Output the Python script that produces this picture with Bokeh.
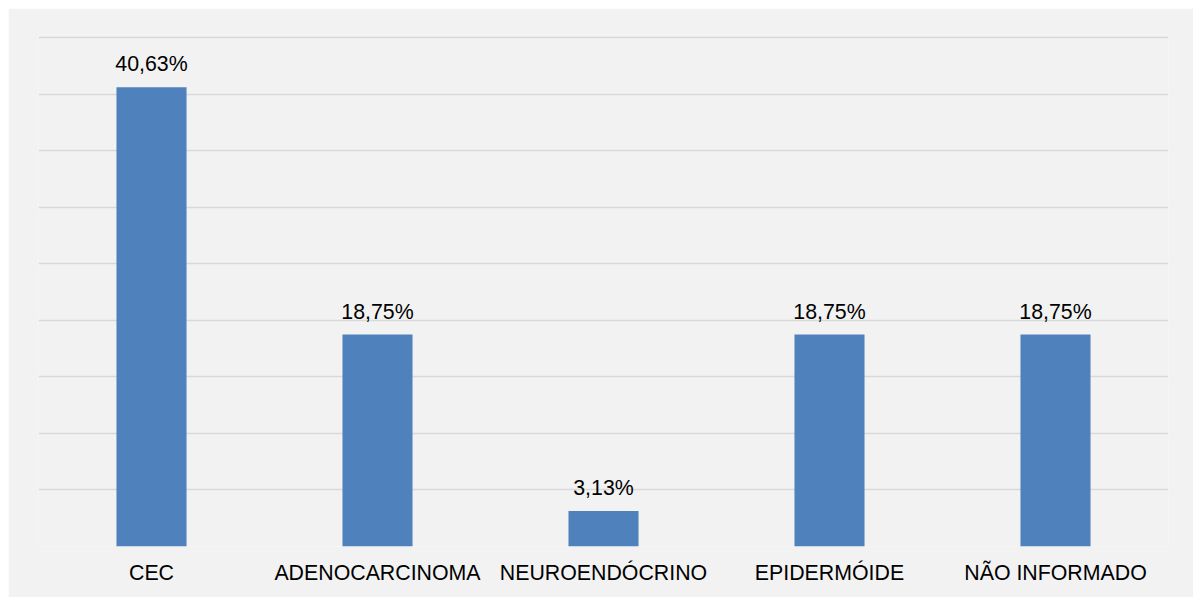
from bokeh.plotting import figure
from bokeh.models import ColumnDataSource, SingleIntervalTicker, Range1d
from bokeh.core.properties import value
from bokeh.embed import file_html
from bokeh.resources import INLINE

categories = ["CEC", "ADENOCARCINOMA", "NEUROENDÓCRINO", "EPIDERMÓIDE", "NÃO INFORMADO"]
percentages = [40.63, 18.75, 3.13, 18.75, 18.75]
labels = [f"{v:.2f}%".replace(".", ",") for v in percentages]

src = ColumnDataSource(dict(cat=categories, val=percentages, lab=labels))

BG = "#f2f2f2"
FONT = "Liberation Sans"

p = figure(x_range=categories, y_range=Range1d(0, 45.3),
           frame_width=1130, frame_height=512,
           min_border_left=30, min_border_right=25, min_border_top=26, min_border_bottom=51,
           output_backend="svg", toolbar_location=None,
           background_fill_color=BG, border_fill_color=BG)
p.margin = (8, 0, 0, 8)
p.outline_line_color = None

p.vbar(x="cat", top="val", width=0.31, source=src, fill_color="#4f81bd", line_color=None)

p.text(x="cat", y="val", text="lab", source=src, y_offset=-23,
       text_align="center", text_baseline="alphabetic",
       text_font=value(FONT), text_font_size="21.33px", text_color="#000000")

p.yaxis.visible = False
p.yaxis.ticker = SingleIntervalTicker(interval=5)
p.ygrid.ticker = SingleIntervalTicker(interval=5)
p.ygrid.grid_line_color = "#d9d9d9"
p.ygrid.grid_line_width = 1.5
p.xgrid.grid_line_color = None

p.xaxis.axis_line_color = None
p.xaxis.major_tick_line_color = None
p.xaxis.minor_tick_line_color = None
p.xaxis.major_label_text_font = FONT
p.xaxis.major_label_text_font_size = "21.33px"
p.xaxis.major_label_text_color = "#000000"
p.xaxis.major_label_standoff = 8

open("out.html", "w").write(file_html(p, INLINE))
